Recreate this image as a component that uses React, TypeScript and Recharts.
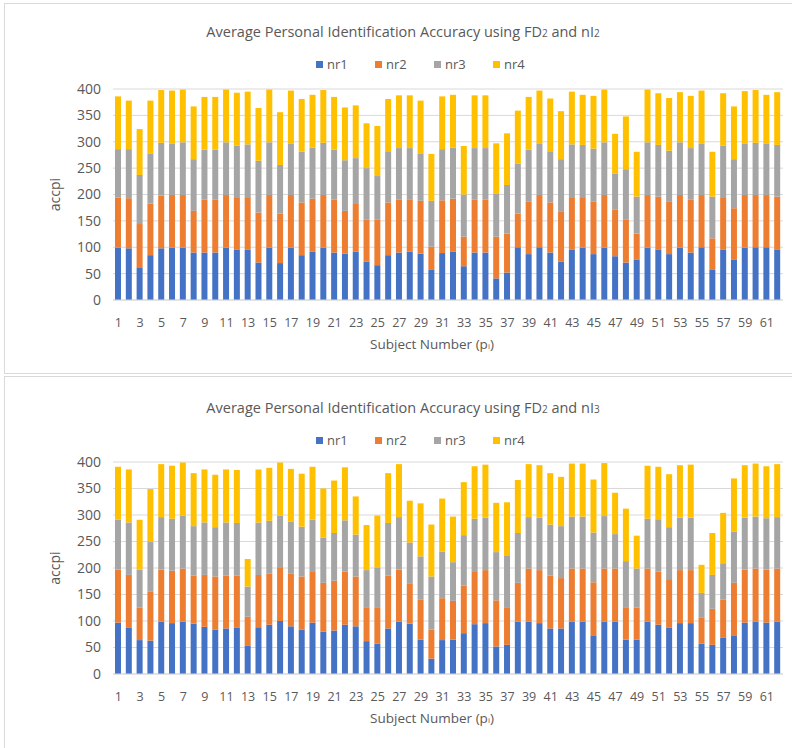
import { BarChart, Bar, XAxis, YAxis, CartesianGrid, Label } from 'recharts';

// subject numbers p1..p62
const subjects = [
  1, 2, 3, 4, 5, 6, 7, 8, 9, 10, 11, 12, 13, 14, 15, 16, 17, 18, 19, 20, 21,
  22, 23, 24, 25, 26, 27, 28, 29, 30, 31, 32, 33, 34, 35, 36, 37, 38, 39, 40, 41,
  42, 43, 44, 45, 46, 47, 48, 49, 50, 51, 52, 53, 54, 55, 56, 57, 58, 59, 60, 61, 62,
];

const yTicks = [0, 50, 100, 150, 200, 250, 300, 350, 400];

// chart 1: FD2 and nI2
const nr1Top = [
  99, 98, 62, 85, 98, 99, 99, 90, 90, 90, 99, 95, 95, 71, 99, 70, 99, 85, 92, 99, 90,
  88, 92, 73, 66, 85, 90, 92, 88, 57, 89, 92, 64, 90, 90, 41, 52, 100, 87, 100, 90,
  73, 95, 99, 87, 99, 83, 71, 77, 99, 96, 87, 99, 90, 100, 57, 95, 76, 99, 100, 100, 96,
];
const nr2Top = [
  95, 95, 82, 98, 100, 100, 100, 79, 100, 100, 100, 100, 100, 95, 100, 94, 100, 100, 100, 100, 100,
  81, 90, 79, 86, 100, 100, 99, 100, 44, 100, 100, 56, 100, 100, 79, 74, 64, 100, 99, 95,
  94, 100, 96, 100, 100, 88, 82, 49, 100, 100, 99, 100, 100, 99, 60, 100, 98, 100, 99, 99, 100,
];
const nr3Top = [
  92, 93, 93, 95, 100, 98, 100, 98, 95, 95, 100, 98, 100, 98, 100, 92, 98, 96, 97, 99, 95,
  96, 87, 98, 83, 97, 98, 97, 90, 87, 97, 97, 80, 98, 98, 81, 92, 95, 98, 98, 97,
  100, 100, 99, 100, 100, 69, 95, 70, 100, 98, 97, 100, 98, 98, 79, 98, 93, 98, 99, 98, 98,
];
const nr4Top = [
  100, 92, 87, 100, 100, 100, 100, 100, 100, 100, 100, 100, 100, 100, 100, 100, 100, 100, 100, 100, 100,
  100, 100, 85, 95, 99, 100, 100, 100, 89, 100, 100, 92, 100, 100, 96, 98, 100, 100, 100, 100,
  91, 100, 95, 100, 100, 75, 100, 85, 100, 98, 100, 95, 99, 100, 85, 99, 100, 99, 100, 92, 100,
];

// chart 2: FD2 and nI3
const nr1Bottom = [
  97, 88, 64, 63, 99, 96, 99, 95, 89, 84, 86, 87, 53, 88, 93, 100, 90, 84, 97, 80, 82,
  93, 90, 62, 57, 86, 99, 95, 65, 29, 64, 65, 77, 94, 96, 52, 55, 99, 99, 96, 86,
  86, 99, 99, 73, 99, 99, 65, 65, 99, 93, 87, 96, 96, 57, 55, 69, 73, 97, 99, 97, 99,
];
const nr2Bottom = [
  100, 99, 61, 93, 98, 99, 100, 91, 98, 100, 100, 99, 55, 99, 96, 100, 100, 100, 97, 92, 94,
  100, 94, 64, 69, 100, 98, 75, 75, 55, 79, 73, 90, 100, 100, 87, 71, 73, 100, 100, 100,
  95, 100, 100, 100, 100, 100, 61, 60, 100, 100, 92, 100, 100, 50, 68, 71, 99, 100, 100, 100, 100,
];
const nr3Bottom = [
  94, 99, 72, 93, 99, 98, 100, 93, 99, 93, 100, 99, 57, 99, 100, 99, 97, 94, 97, 85, 90,
  97, 79, 70, 74, 99, 99, 78, 82, 100, 88, 73, 95, 99, 99, 91, 98, 94, 97, 99, 96,
  98, 98, 98, 94, 99, 65, 87, 74, 94, 99, 98, 99, 99, 46, 64, 69, 97, 98, 98, 97, 97,
];
const nr4Bottom = [
  100, 100, 94, 100, 100, 100, 100, 100, 100, 99, 100, 100, 52, 100, 100, 100, 100, 100, 100, 93, 99,
  100, 72, 85, 99, 94, 100, 79, 100, 98, 100, 86, 100, 99, 100, 93, 100, 100, 100, 99, 97,
  93, 100, 100, 100, 100, 78, 99, 62, 100, 99, 100, 99, 100, 53, 79, 95, 100, 99, 100, 98, 100,
];

const dataTop = subjects.map((s, i) => ({
  subject: s, nr1: nr1Top[i], nr2: nr2Top[i], nr3: nr3Top[i], nr4: nr4Top[i],
}));
const dataBottom = subjects.map((s, i) => ({
  subject: s, nr1: nr1Bottom[i], nr2: nr2Bottom[i], nr3: nr3Bottom[i], nr4: nr4Bottom[i],
}));

const series = [
  { key: 'nr1', color: '#4472C4' },
  { key: 'nr2', color: '#ED7D31' },
  { key: 'nr3', color: '#A5A5A5' },
  { key: 'nr4', color: '#FFC000' },
];

const textColor = '#595959';
const gridColor = '#D9D9D9';

const YTitle = (props: any) => {
  const { viewBox } = props;
  const cx = viewBox.x + 1;
  const cy = viewBox.y + viewBox.height / 2;
  return (
    <text x={cx} y={cy} transform={`rotate(-90, ${cx}, ${cy})`} textAnchor="middle"
      dominantBaseline="central" fill={textColor} fontSize={14}>
      accpi
    </text>
  );
};

const XTitle = (props: any) => {
  const { viewBox } = props;
  return (
    <text x={viewBox.x + viewBox.width / 2 - 16} y={viewBox.y + 49} textAnchor="middle"
      fill={textColor} fontSize={13.5}>
      Subject Number (p<tspan fontSize={8}>i</tspan>)
    </text>
  );
};

interface PanelProps {
  top: number;
  plotTop: number;
  plotBottom: number;
  index: string;
  data: any[];
}

const Panel = ({ top, plotTop, plotBottom, index, data }: PanelProps) => {
  const h = 372;
  return (
    <div style={{ position: 'absolute', left: 0, top, width: 792, height: h }}>
      <div style={{
        position: 'absolute', left: 0, width: 792, top: 22, textAlign: 'center',
        paddingLeft: 14, boxSizing: 'border-box', fontSize: 14.5, color: textColor,
      }}>
        Average Personal Identification Accuracy using FD<span style={{ fontSize: 10 }}>2</span> and nI<span style={{ fontSize: 10 }}>{index}</span>
      </div>
      {series.map((s, i) => (
        <div key={s.key} style={{
          position: 'absolute', left: 316 + i * 59, top: 55, display: 'flex',
          alignItems: 'center', fontSize: 13, color: textColor,
        }}>
          <span style={{ width: 7, height: 7, background: s.color, marginRight: 4, display: 'inline-block' }} />
          {s.key}
        </div>
      ))}
      <div style={{ position: 'absolute', left: 0, top: 0 }}>
        <BarChart width={792} height={h} data={data}
          margin={{ top: plotTop, right: 9, bottom: h - plotBottom - 60, left: 53 }}>
          <CartesianGrid vertical={false} stroke={gridColor} />
          <XAxis dataKey="subject" interval={1} height={60} tickLine={false}
            axisLine={{ stroke: gridColor }} tickMargin={12}
            tick={{ fill: textColor, fontSize: 12.5 }}>
            <Label content={XTitle} />
          </XAxis>
          <YAxis width={60} domain={[0, 400]} ticks={yTicks} tickLine={false} axisLine={false}
            tickMargin={6} tick={{ fill: textColor, fontSize: 14 }}>
            <Label content={YTitle} />
          </YAxis>
          {series.map((s) => (
            <Bar key={s.key} dataKey={s.key} stackId="a" fill={s.color} barSize={6}
              isAnimationActive={false} />
          ))}
        </BarChart>
      </div>
    </div>
  );
};

export default function App() {
  return (
    <div style={{
      position: 'absolute', left: 0, top: 0, width: 792, height: 748, background: '#fff',
      overflow: 'hidden', fontFamily: '"Open Sans", sans-serif',
    }}>
      <div style={{ position: 'absolute', left: 4, top: 3, width: 820, height: 369, border: `1px solid ${gridColor}` }} />
      <div style={{ position: 'absolute', left: 4, top: 376, width: 820, height: 400, border: `1px solid ${gridColor}` }} />
      <Panel top={0} plotTop={89} plotBottom={300} index="2" data={dataTop} />
      <Panel top={376} plotTop={86} plotBottom={298} index="3" data={dataBottom} />
    </div>
  );
}
